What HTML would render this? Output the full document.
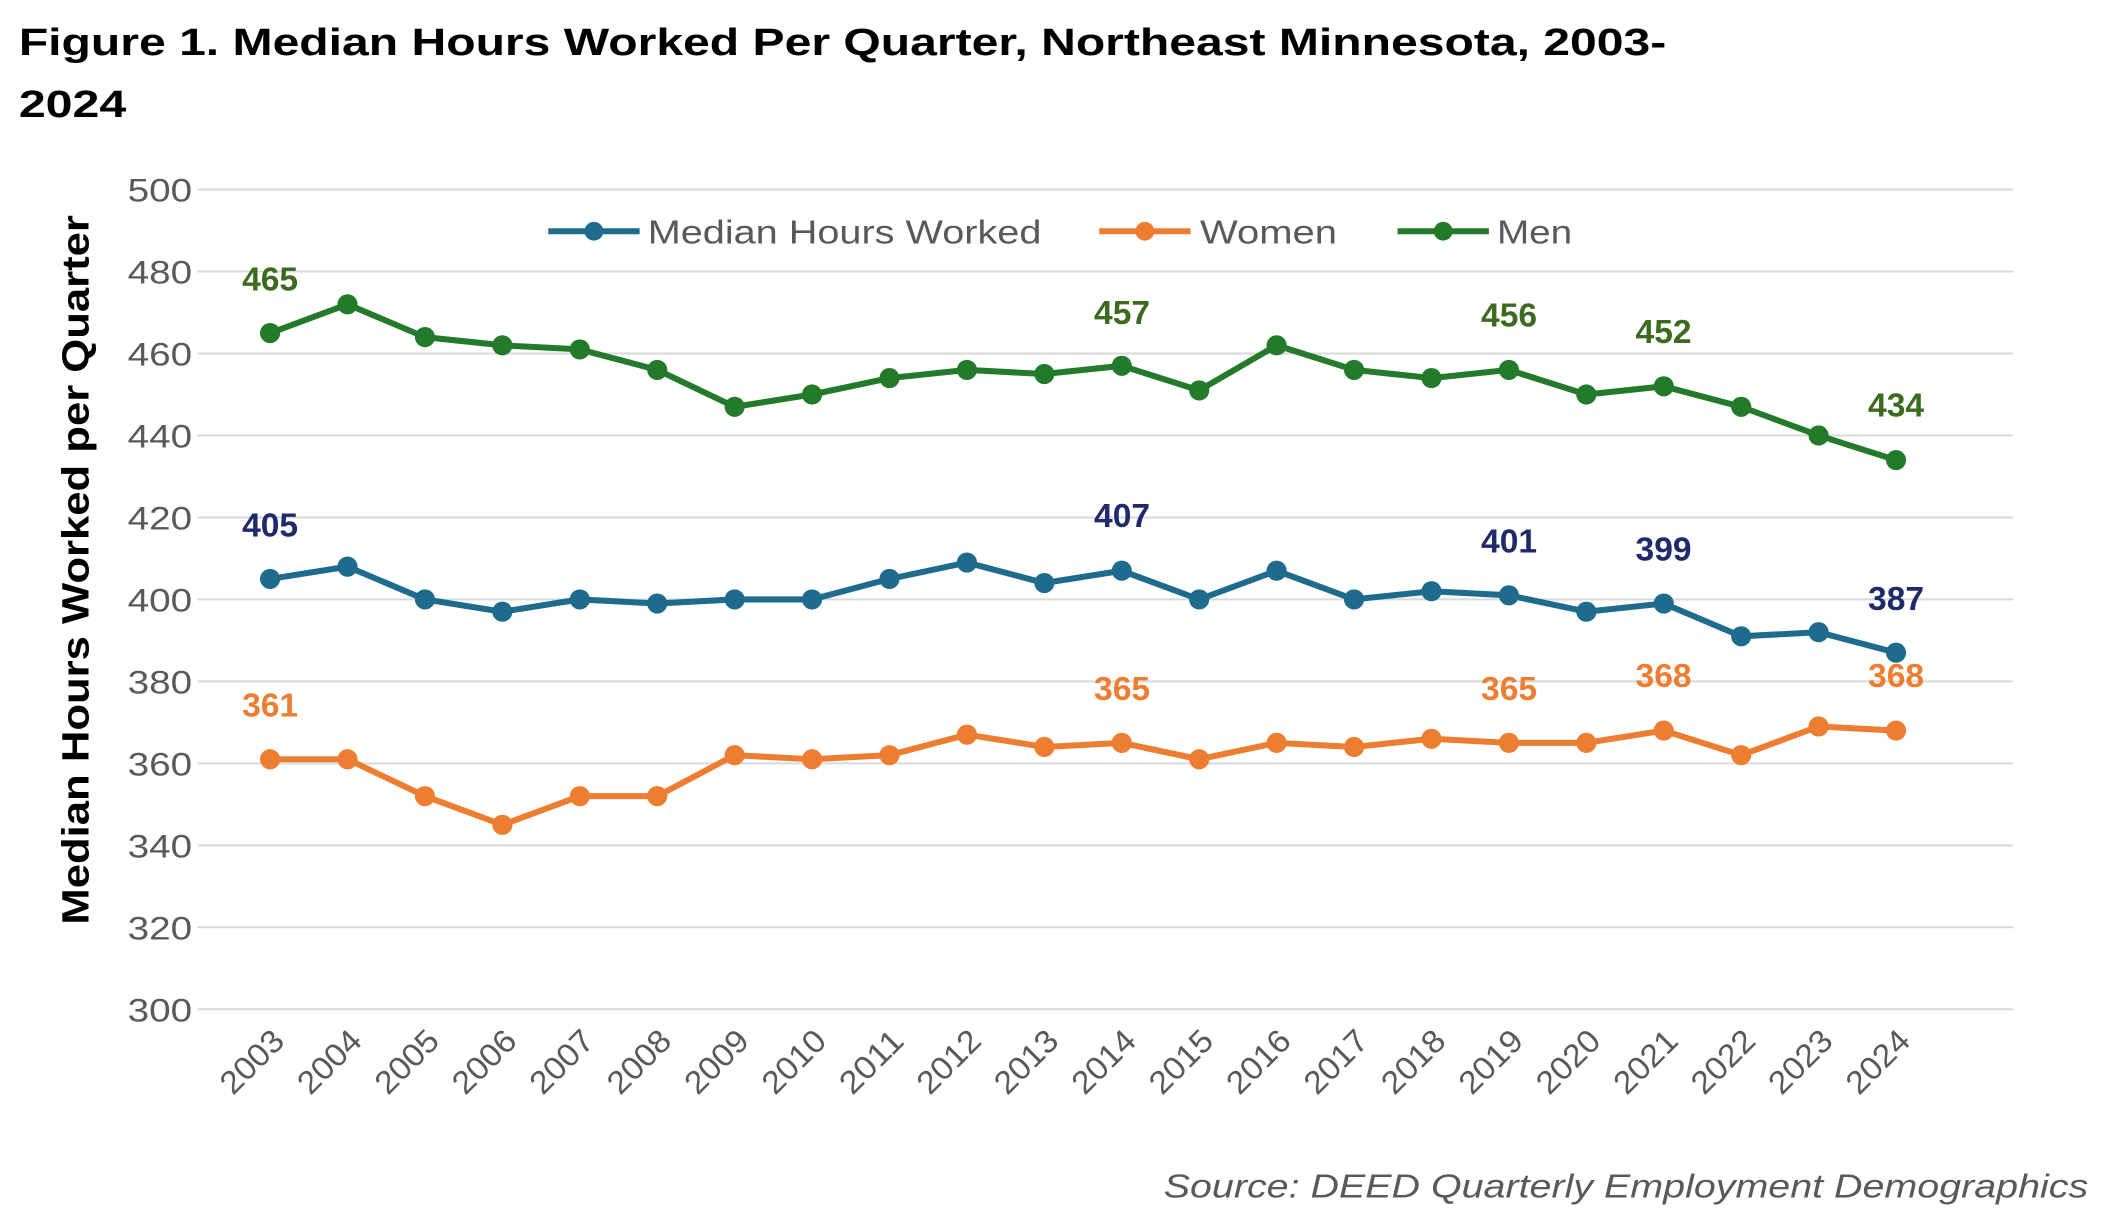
<!DOCTYPE html>
<html><head><meta charset="utf-8"><style>
html,body{margin:0;padding:0;background:#fff;}
svg{display:block;}
text{font-family:"Liberation Sans",sans-serif;}
</style></head><body>
<svg width="2107" height="1219" viewBox="0 0 1568 907" xmlns="http://www.w3.org/2000/svg">
<rect width="1568" height="907" fill="#fff"/>
<text x="14" y="41" font-size="28" font-weight="bold" fill="#000" textLength="1226" lengthAdjust="spacingAndGlyphs">Figure 1. Median Hours Worked Per Quarter, Northeast Minnesota, 2003-</text>
<text x="14" y="87" font-size="28" font-weight="bold" fill="#000" textLength="80" lengthAdjust="spacingAndGlyphs">2024</text>
<g id="grid" stroke="#d9d9d9" stroke-width="1.5"></g>
<g id="ylab" font-size="24" fill="#595959" text-anchor="end"></g>
<g id="xlab" font-size="24" fill="#595959"></g>
<text transform="translate(66,424) rotate(-90)" font-size="28" font-weight="bold" text-anchor="middle" fill="#000" textLength="528" lengthAdjust="spacingAndGlyphs">Median Hours Worked per Quarter</text>
<g font-size="25" fill="#595959">
<line x1="408" y1="172" x2="476" y2="172" stroke="#1f6b8e" stroke-width="4.5"/><circle cx="442" cy="172" r="7" fill="#1f6b8e"/>
<text x="482" y="181" textLength="293" lengthAdjust="spacingAndGlyphs">Median Hours Worked</text>
<line x1="818" y1="172" x2="886" y2="172" stroke="#ed7d31" stroke-width="4.5"/><circle cx="852" cy="172" r="7" fill="#ed7d31"/>
<text x="893" y="181" textLength="102" lengthAdjust="spacingAndGlyphs">Women</text>
<line x1="1040" y1="172" x2="1108" y2="172" stroke="#237a2a" stroke-width="4.5"/><circle cx="1074" cy="172" r="7" fill="#237a2a"/>
<text x="1114" y="181" textLength="56" lengthAdjust="spacingAndGlyphs">Men</text>
</g>
<g id="series"></g>
<g font-size="25" font-weight="bold" text-anchor="middle">
<g fill="#3c6b1f"><text x="201" y="216">465</text><text x="835" y="241">457</text><text x="1123" y="243">456</text><text x="1238" y="255">452</text><text x="1411" y="310">434</text></g>
<g fill="#1f2a6b"><text x="201" y="399">405</text><text x="835" y="392">407</text><text x="1123" y="411">401</text><text x="1238" y="417">399</text><text x="1411" y="454">387</text></g>
<g fill="#ed7d31"><text x="201" y="533">361</text><text x="835" y="521">365</text><text x="1123" y="521">365</text><text x="1238" y="511">368</text><text x="1411" y="511">368</text></g>
</g>
<text x="1554" y="891" font-size="25" font-style="italic" fill="#595959" text-anchor="end" textLength="688" lengthAdjust="spacingAndGlyphs">Source: DEED Quarterly Employment Demographics</text>
</svg>
<script>
var ns="http://www.w3.org/2000/svg";
function el(p,t,a,txt){var e=document.createElementNS(ns,t);for(var k in a)e.setAttribute(k,a[k]);if(txt!=null)e.textContent=txt;p.appendChild(e);return e;}
function Y(v){return 141+(500-v)*3.05;}
function X(i){return 201+i*1210/21;}
var g=document.getElementById('grid'),yl=document.getElementById('ylab'),xl=document.getElementById('xlab');
for(var v=300;v<=500;v+=20){el(g,'line',{x1:147,x2:1498,y1:Y(v),y2:Y(v)});el(yl,'text',{x:143,y:Y(v)+9,textLength:48,lengthAdjust:'spacingAndGlyphs'},v);}
for(var i=0;i<22;i++){var x=X(i)+12,y=776;el(xl,'text',{transform:'translate('+x+','+y+') rotate(-45)','text-anchor':'end',textLength:56,lengthAdjust:'spacingAndGlyphs'},2003+i);}
var data=[
["#ed7d31",[361,361,352,345,352,352,362,361,362,367,364,365,361,365,364,366,365,365,368,362,369,368]],
["#1f6b8e",[405,408,400,397,400,399,400,400,405,409,404,407,400,407,400,402,401,397,399,391,392,387]],
["#237a2a",[465,472,464,462,461,456,447,450,454,456,455,457,451,462,456,454,456,450,452,447,440,434]]];
var s=document.getElementById('series');
data.forEach(function(d){var pts=d[1].map(function(v,i){return X(i)+','+Y(v);}).join(' ');
el(s,'polyline',{points:pts,fill:'none',stroke:d[0],'stroke-width':4.5,'stroke-linejoin':'round'});
d[1].forEach(function(v,i){el(s,'circle',{cx:X(i),cy:Y(v),r:7.5,fill:d[0]});});});
</script>
</body></html>
